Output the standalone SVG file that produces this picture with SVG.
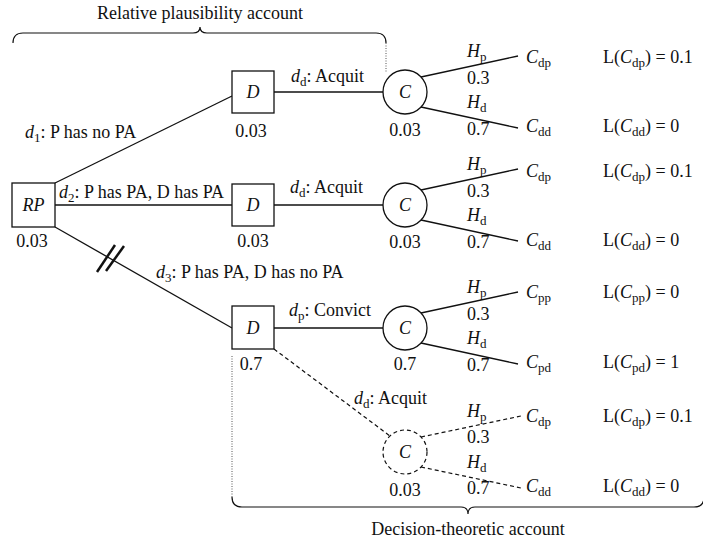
<svg xmlns="http://www.w3.org/2000/svg" width="703" height="542" viewBox="0 0 703 542">
<style>
text{font-family:"Liberation Serif","Times New Roman",serif;font-size:18px;fill:#111}
.i{font-style:italic}
.s{font-size:13px}
.m{text-anchor:middle}
.ln{stroke:#111;stroke-width:1.3;fill:none}
.dash{stroke:#111;stroke-width:1.2;fill:none;stroke-dasharray:4 3}
.dot{stroke:#555;stroke-width:1;fill:none;stroke-dasharray:1 1.5}
.box{fill:#fff;stroke:#111;stroke-width:1.3}
.cir{fill:#fff;stroke:#111;stroke-width:1.3}
.cird{fill:#fff;stroke:#111;stroke-width:1.2;stroke-dasharray:4 3}
.br{stroke:#111;stroke-width:1.2;fill:none}
</style>
<g id="braces">
<path class="br" d="M13,43 Q13,33 23,33 L193,33 Q200,33 200,27 Q200,33 207,33 L376,33 Q386,33 386,43"/>
<line class="dot" x1="386" y1="43" x2="386" y2="73"/>
<text class="m" x="200" y="19">Relative plausibility account</text>
<path class="br" d="M232,497 Q232,507 242,507 L461,507 Q468,507 468,514 Q468,507 475,507 L694,507 Q704,507 704,497"/>
<line class="dot" x1="232" y1="356" x2="232" y2="497"/>
<text class="m" x="468" y="535">Decision-theoretic account</text>
</g>
<g id="connectors">
<line class="ln" x1="55" y1="183" x2="232" y2="96"/>
<line class="ln" x1="55" y1="205" x2="232" y2="205"/>
<line class="ln" x1="55" y1="227" x2="232" y2="328"/>
<line stroke="#111" stroke-width="2.5" x1="97" y1="272" x2="115" y2="245"/>
<line stroke="#111" stroke-width="2.5" x1="106" y1="271" x2="124" y2="246"/>
<line class="ln" x1="274" y1="92" x2="383" y2="92"/>
<line class="ln" x1="274" y1="205" x2="383" y2="205"/>
<line class="ln" x1="274" y1="328" x2="383" y2="328"/>
<line class="dash" x1="274" y1="349" x2="390" y2="436"/>
<line class="ln" x1="421" y1="77" x2="518" y2="56"/>
<line class="ln" x1="421" y1="107" x2="518" y2="128"/>
<line class="ln" x1="421" y1="190" x2="518" y2="169"/>
<line class="ln" x1="421" y1="220" x2="518" y2="241"/>
<line class="ln" x1="421" y1="313" x2="518" y2="292"/>
<line class="ln" x1="421" y1="343" x2="518" y2="364"/>
<line class="dash" x1="421" y1="437" x2="521" y2="416"/>
<line class="dash" x1="421" y1="467" x2="521" y2="488"/>
</g>
<g id="edge-labels">
<text x="25" y="138"><tspan class="i">d</tspan><tspan class="s" dy="4">1</tspan><tspan dy="-4">: P has no PA</tspan></text>
<text x="59" y="198"><tspan class="i">d</tspan><tspan class="s" dy="4">2</tspan><tspan dy="-4">: P has PA, D has PA</tspan></text>
<text x="156" y="278"><tspan class="i">d</tspan><tspan class="s" dy="4">3</tspan><tspan dy="-4">: P has PA, D has no PA</tspan></text>
<text x="291" y="82"><tspan class="i">d</tspan><tspan class="s" dy="4">d</tspan><tspan dy="-4">: Acquit</tspan></text>
<text x="290" y="193"><tspan class="i">d</tspan><tspan class="s" dy="4">d</tspan><tspan dy="-4">: Acquit</tspan></text>
<text x="289" y="316"><tspan class="i">d</tspan><tspan class="s" dy="4">p</tspan><tspan dy="-4">: Convict</tspan></text>
<text x="354" y="404"><tspan class="i">d</tspan><tspan class="s" dy="4">d</tspan><tspan dy="-4">: Acquit</tspan></text>
</g>
<g id="node-RP">
<rect class="box" x="12" y="183" width="43" height="44"/>
<text class="i m" x="33.5" y="211">RP</text>
<text class="m" x="32" y="247">0.03</text>
</g>
<g id="node-D1">
<rect class="box" x="232" y="71" width="42" height="42"/>
<text class="i m" x="253" y="98">D</text>
<text class="m" x="251" y="137">0.03</text>
</g>
<g id="node-D2">
<rect class="box" x="232" y="184" width="42" height="42"/>
<text class="i m" x="253" y="211">D</text>
<text class="m" x="253" y="247">0.03</text>
</g>
<g id="node-D3">
<rect class="box" x="232" y="306" width="42" height="43"/>
<text class="i m" x="253" y="334">D</text>
<text class="m" x="251" y="370">0.7</text>
</g>
<g id="node-C1">
<circle class="cir" cx="405" cy="92" r="22"/>
<text class="i m" x="405" y="98">C</text>
<text class="m" x="405" y="136">0.03</text>
</g>
<g id="node-C2">
<circle class="cir" cx="405" cy="205" r="22"/>
<text class="i m" x="405" y="211">C</text>
<text class="m" x="405" y="248">0.03</text>
</g>
<g id="node-C3">
<circle class="cir" cx="405" cy="328" r="22"/>
<text class="i m" x="405" y="334">C</text>
<text class="m" x="405" y="370">0.7</text>
</g>
<g id="node-C4">
<circle class="cird" cx="405" cy="452" r="22"/>
<text class="i m" x="405" y="458">C</text>
<text class="m" x="405" y="496">0.03</text>
</g>
<g id="branch-labels">
<text x="467" y="57"><tspan class="i">H</tspan><tspan class="s" dy="4">p</tspan></text>
<text x="467" y="84">0.3</text>
<text x="467" y="108"><tspan class="i">H</tspan><tspan class="s" dy="4">d</tspan></text>
<text x="467" y="135">0.7</text>
<text x="467" y="170"><tspan class="i">H</tspan><tspan class="s" dy="4">p</tspan></text>
<text x="467" y="197">0.3</text>
<text x="467" y="221"><tspan class="i">H</tspan><tspan class="s" dy="4">d</tspan></text>
<text x="467" y="248">0.7</text>
<text x="467" y="293"><tspan class="i">H</tspan><tspan class="s" dy="4">p</tspan></text>
<text x="467" y="320">0.3</text>
<text x="467" y="344"><tspan class="i">H</tspan><tspan class="s" dy="4">d</tspan></text>
<text x="467" y="371">0.7</text>
<text x="467" y="417"><tspan class="i">H</tspan><tspan class="s" dy="4">p</tspan></text>
<text x="467" y="443">0.3</text>
<text x="467" y="468"><tspan class="i">H</tspan><tspan class="s" dy="4">d</tspan></text>
<text x="467" y="494">0.7</text>
</g>
<g id="node-Cdp-1">
<text x="526" y="63"><tspan class="i">C</tspan><tspan class="s" dy="4">dp</tspan></text>
<text x="603" y="63">L(<tspan class="i">C</tspan><tspan class="s" dy="4">dp</tspan><tspan dy="-4">) = 0.1</tspan></text>
</g>
<g id="node-Cdd-1">
<text x="526" y="132"><tspan class="i">C</tspan><tspan class="s" dy="4">dd</tspan></text>
<text x="603" y="132">L(<tspan class="i">C</tspan><tspan class="s" dy="4">dd</tspan><tspan dy="-4">) = 0</tspan></text>
</g>
<g id="node-Cdp-2">
<text x="526" y="177"><tspan class="i">C</tspan><tspan class="s" dy="4">dp</tspan></text>
<text x="603" y="177">L(<tspan class="i">C</tspan><tspan class="s" dy="4">dp</tspan><tspan dy="-4">) = 0.1</tspan></text>
</g>
<g id="node-Cdd-2">
<text x="526" y="246"><tspan class="i">C</tspan><tspan class="s" dy="4">dd</tspan></text>
<text x="603" y="246">L(<tspan class="i">C</tspan><tspan class="s" dy="4">dd</tspan><tspan dy="-4">) = 0</tspan></text>
</g>
<g id="node-Cpp">
<text x="526" y="298"><tspan class="i">C</tspan><tspan class="s" dy="4">pp</tspan></text>
<text x="603" y="298">L(<tspan class="i">C</tspan><tspan class="s" dy="4">pp</tspan><tspan dy="-4">) = 0</tspan></text>
</g>
<g id="node-Cpd">
<text x="526" y="368"><tspan class="i">C</tspan><tspan class="s" dy="4">pd</tspan></text>
<text x="603" y="368">L(<tspan class="i">C</tspan><tspan class="s" dy="4">pd</tspan><tspan dy="-4">) = 1</tspan></text>
</g>
<g id="node-Cdp-3">
<text x="526" y="422"><tspan class="i">C</tspan><tspan class="s" dy="4">dp</tspan></text>
<text x="603" y="422">L(<tspan class="i">C</tspan><tspan class="s" dy="4">dp</tspan><tspan dy="-4">) = 0.1</tspan></text>
</g>
<g id="node-Cdd-3">
<text x="526" y="492"><tspan class="i">C</tspan><tspan class="s" dy="4">dd</tspan></text>
<text x="603" y="492">L(<tspan class="i">C</tspan><tspan class="s" dy="4">dd</tspan><tspan dy="-4">) = 0</tspan></text>
</g>
</svg>
